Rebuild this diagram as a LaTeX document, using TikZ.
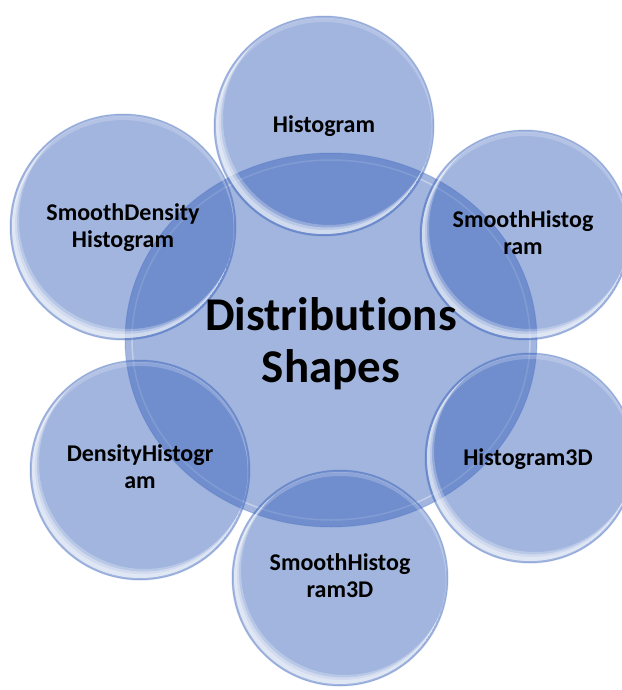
\documentclass[tikz,border=0pt]{standalone}
\usepackage{fontspec}
\setmainfont{Carlito}[Ligatures=NoCommon]
\usetikzlibrary{shapes.geometric,calc}
\definecolor{bub}{RGB}{59,100,187}
\tikzset{
  bubble/.style={circle, inner sep=0pt, fill=bub, fill opacity=0.48, draw=bub, draw opacity=0.25, line width=1pt},
  corebox/.style={ellipse, inner sep=0pt, fill=bub, fill opacity=0.48, draw=bub, draw opacity=0.25, line width=1pt, minimum width=412pt, minimum height=374pt},
  lab/.style={font=\bfseries\fontsize{24}{26.5}\selectfont, align=center, text=black, inner sep=0pt, anchor=base},
  titletext/.style={font=\bfseries\fontsize{47}{52}\selectfont, align=center, text=black, inner sep=0pt, anchor=base},
}
\newcommand\glint[2]{%
  \begin{scope}
    \clip (#1.center) circle[radius=#2-2];
    \fill[white, fill opacity=0.35, even odd rule] (#1.center) circle[radius=#2-2] ($(#1.center)+(2,-3)$) circle[radius=#2-3];
    \fill[white, fill opacity=0.35, even odd rule] (#1.center) circle[radius=#2-2] ($(#1.center)+(3.5,-5)$) circle[radius=#2-3.5];
    \fill[white, fill opacity=0.25, even odd rule] (#1.center) circle[radius=#2-2] ($(#1.center)+(5,-7)$) circle[radius=#2-4];
    \fill[white, fill opacity=0.2, even odd rule] (#1.center) circle[radius=#2-1] ($(#1.center)+(0,4)$) circle[radius=#2-2];
  \end{scope}}
\begin{document}
\begin{tikzpicture}[x=1pt,y=-1pt]
\useasboundingbox (0,0) rectangle (621,690);
% central ellipse
\node[corebox] (core) at (331,340) {};
\draw[white, opacity=0.35, line width=1.5pt] (core.center) ellipse [x radius=199, y radius=180];
% outer bubbles
\node[bubble, minimum size=220pt] (hist) at (324,126) {};
\node[bubble, minimum size=210pt] (shist) at (525,235) {};
\node[bubble, minimum size=210pt] (hist3d) at (530,458) {};
\node[bubble, minimum size=216pt] (shist3d) at (340,578) {};
\node[bubble, minimum size=220pt] (dhist) at (140,470) {};
\node[bubble, minimum size=226pt] (sdhist) at (123,227) {};
\glint{hist}{110}
\glint{shist}{105}
\glint{hist3d}{105}
\glint{shist3d}{108}
\glint{dhist}{110}
\glint{sdhist}{113}
% texts
\node[titletext] (core-t) at (331,382) {Distributions\\Shapes};
\node[lab] (hist-t) at (324,132) {Histogram};
\node[lab] (shist-t) at (523,254) {SmoothHistog\\ram};
\node[lab] (hist3d-t) at (528,465) {Histogram3D};
\node[lab] (shist3d-t) at (340,597) {SmoothHistog\\ram3D};
\node[lab] (dhist-t) at (140,488) {DensityHistogr\\am};
\node[lab] (sdhist-t) at (123,247) {SmoothDensity\\Histogram};
\end{tikzpicture}
\end{document}
